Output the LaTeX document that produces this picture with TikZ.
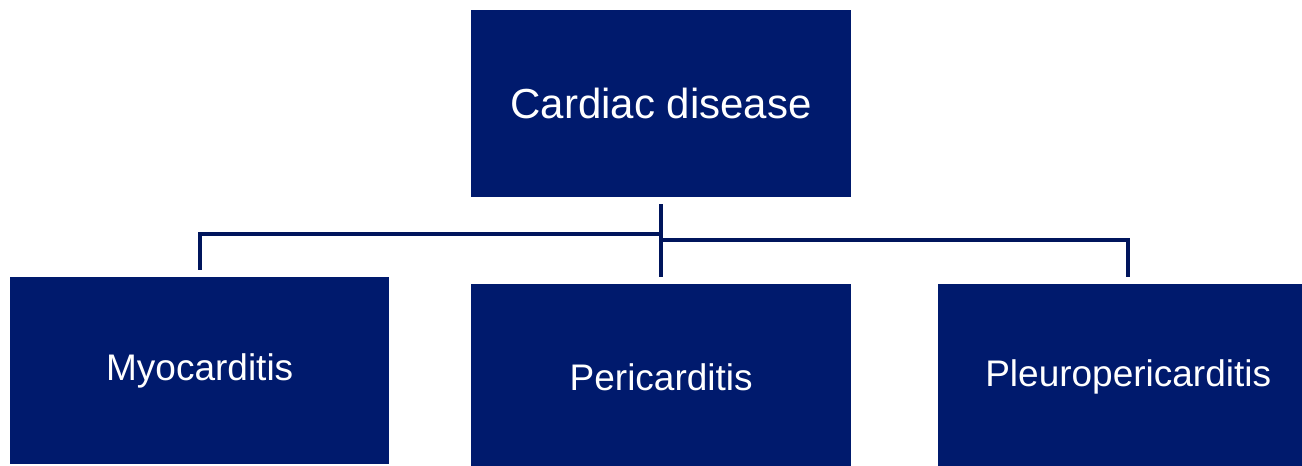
\documentclass[tikz,border=0pt]{standalone}
\usepackage{fontspec}
\setmainfont{Liberation Sans}
\definecolor{navy}{HTML}{001A6D}
\definecolor{linenavy}{HTML}{00155C}
\begin{document}
\begin{tikzpicture}[x=1pt,y=-1pt,
  box/.style={fill=navy,draw=none,text=white,inner sep=0pt,anchor=north west},
  conn/.style={draw=linenavy,line width=4pt}]
\useasboundingbox (0,0) rectangle (1302,466);
\begin{scope}
\clip (0,0) rectangle (1302,466);
\node[box,minimum width=380pt,minimum height=187pt,font=\fontsize{42}{50}\selectfont] (top) at (471,10) {Cardiac disease};
\node[box,minimum width=379pt,minimum height=187pt,font=\fontsize{37}{44}\selectfont] (myo) at (10,277) {Myocarditis};
\node[box,minimum width=380pt,minimum height=186pt,font=\fontsize{37}{44}\selectfont] (peri) at (471,284) {Pericarditis};
\node[box,minimum width=380pt,minimum height=186pt,font=\fontsize{37}{44}\selectfont] (pleu) at (938,284) {Pleuropericarditis};
\end{scope}
\coordinate (hub) at (661,204);
\draw[conn] (hub) -- ([yshift=7pt]peri.north -| hub);
\draw[conn] (661,234) -| ([yshift=7pt]myo.north -| 200,0);
\draw[conn] (661,240) -| ([yshift=7pt]pleu.north -| 1128,0);
\end{tikzpicture}
\end{document}
